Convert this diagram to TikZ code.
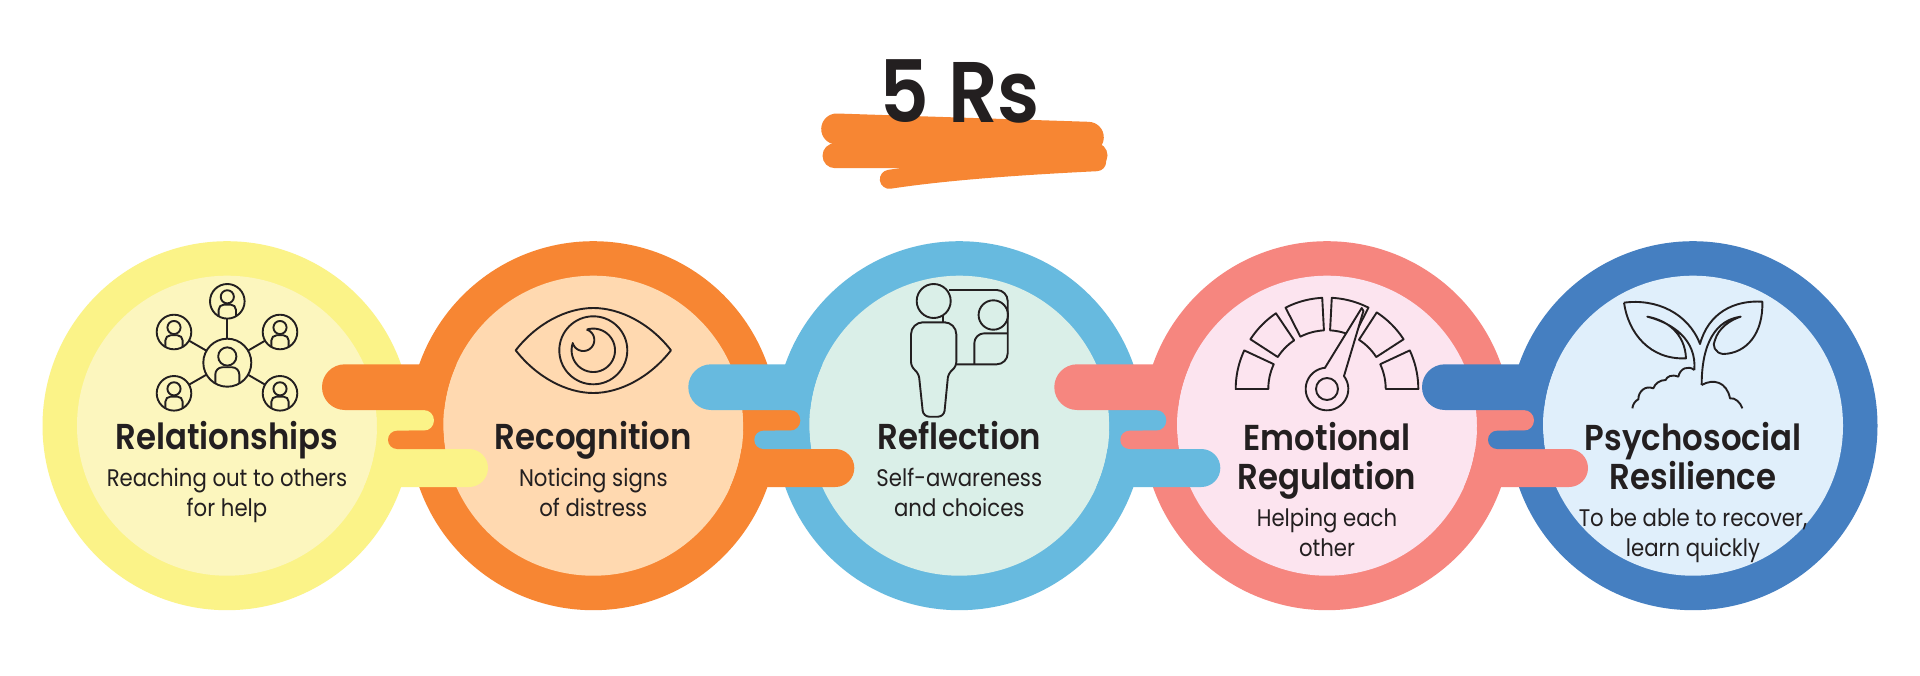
\documentclass[tikz,border=0pt]{standalone}
\usepackage{fontspec}
\setmainfont{Poppins}
\newfontfamily\hfont{Poppins}[UprightFont=* SemiBold,FakeStretch=0.9]
\newfontfamily\sfont{Poppins}[FakeStretch=0.885]
\definecolor{ink}{HTML}{231F20}
\definecolor{cA}{HTML}{FBF388}\definecolor{iA}{HTML}{FCF6BE}
\definecolor{cB}{HTML}{F78633}\definecolor{iB}{HTML}{FFD9B0}
\definecolor{cC}{HTML}{67BADF}\definecolor{iC}{HTML}{DAEFE8}
\definecolor{cD}{HTML}{F6867F}\definecolor{iD}{HTML}{FCE4EF}
\definecolor{cE}{HTML}{457FC1}\definecolor{iE}{HTML}{E0EFFB}
\tikzset{
  ringdisc/.style={circle,inner sep=0pt,outer sep=0pt,minimum size=369pt,fill=#1},
  innerdisc/.style={circle,inner sep=0pt,outer sep=0pt,minimum size=300pt,fill=#1},
  headtext/.style={anchor=base,inner sep=0pt,text=ink,font=\hfont\fontsize{36}{36}\selectfont},
  subtext/.style={anchor=base,inner sep=0pt,text=ink,font=\sfont\fontsize{24}{24}\selectfont},
  iconline/.style={draw=ink,line width=1.9pt,line join=round},
  personring/.style={circle,draw=ink,line width=1.9pt,inner sep=0pt,outer sep=0pt},
  scribble/.style={draw=cB,line cap=round}
}
\newcommand{\bandpair}[5]{% x of left circle, colour left, colour right, x of right circle, unused
  \begin{scope}[even odd rule]
    \clip (0,0) rectangle (1920,675) (#1,425.7) circle[radius=150];
    \fill[#2,rounded corners=19pt] ({#1+100},449) rectangle ({#1+261},487);
    \fill[#2,rounded corners=10.3pt] ({#1+100},410) rectangle ({#1+207},430.7);
  \end{scope}
  \begin{scope}[even odd rule]
    \clip (0,0) rectangle (1920,675) (#4,425.7) circle[radius=150];
    \fill[#3,rounded corners=22.8pt] ({#1+95},364.3) rectangle ({#4-100},410);
    \fill[#3,rounded corners=9.1pt] ({#1+161},430.7) rectangle ({#4-100},449);
  \end{scope}
}
\newcommand{\personicon}[4]{%
  \node[personring,minimum size={2*#4*1pt}] (#1) at (#2,#3) {};
  \draw[iconline] (#2,{#3-.26*#4}) circle[radius={.38*#4}];
  \draw[iconline,rounded corners={.3*#4*1pt}] ({#2-.5*#4},{#3+.866*#4}) -- ({#2-.5*#4},{#3+.19*#4}) -- ({#2+.5*#4},{#3+.19*#4}) -- ({#2+.5*#4},{#3+.866*#4});
}
\newcommand{\gaugeseg}[2]{%
  \draw[iconline] plot[domain=#1:#2,samples=24] ({1327+91.3*cos(\x)},{389-91.3*sin(\x)}) -- plot[domain=#2:#1,samples=24] ({1327+58.7*cos(\x)},{389-58.7*sin(\x)}) -- cycle;
}
\begin{document}
\begin{tikzpicture}[x=1pt,y=-1pt]
\useasboundingbox (0,0) rectangle (1920,675);
\fill[white] (0,0) rectangle (1920,675);
% scribble
\draw[scribble,line width=31pt] (836.7,129) -- (1088.3,137.3);
\draw[scribble,line width=25pt] (835,155.7) -- (1095,155.3);
\draw[scribble,line width=19pt] (889.3,179.3) .. controls (950,170) and (1030,165) .. (1096.7,161.7);
\node[anchor=base,inner sep=0pt,text=ink,font=\hfont\fontsize{86}{86}\selectfont] (title) at (960,122.7) {5 Rs};
% rings
\node[ringdisc=cA] (o1) at (227,425.7) {};
\node[ringdisc=cB] (o2) at (593.3,425.7) {};
\node[ringdisc=cC] (o3) at (959.3,425.7) {};
\node[ringdisc=cD] (o4) at (1327,425.7) {};
\node[ringdisc=cE] (o5) at (1693,425.7) {};
\node[innerdisc=iA] (i1) at (227,425.7) {};
\node[innerdisc=iB] (i2) at (593.3,425.7) {};
\node[innerdisc=iC] (i3) at (959.3,425.7) {};
\node[innerdisc=iD] (i4) at (1327,425.7) {};
\node[innerdisc=iE] (i5) at (1693,425.7) {};
% bands
\bandpair{227}{cA}{cB}{593.3}{}
\bandpair{593.3}{cB}{cC}{959.3}{}
\bandpair{959.3}{cC}{cD}{1327}{}
\bandpair{1327}{cD}{cE}{1693}{}
% icon 1
\personicon{pc}{227.3}{362.7}{24}
\personicon{pt}{227.3}{301.3}{17.3}
\personicon{pul}{174}{332}{17.3}
\personicon{pur}{280}{332}{17.3}
\personicon{pll}{174}{393.3}{17.3}
\personicon{plr}{280}{393.3}{17.3}
\foreach \q in {pt,pul,pur,pll,plr}{\draw[iconline] (pc) -- (\q);}
% icon 2: eye
\draw[iconline] (515.7,350.3) .. controls (536.7,323.3) and (566.7,308) .. (593.3,308) .. controls (620,308) and (650,323.3) .. (671,350.3) .. controls (650,377.3) and (620,393) .. (593.3,393) .. controls (566.7,393) and (536.7,377.3) .. cycle;
\draw[iconline] (593.3,350.3) circle[radius=34];
\draw[iconline] plot[domain=-107.5:198,samples=70] ({593.3+21.7*cos(\x)},{350.3+21.7*sin(\x)}) -- plot[domain=164:-73,samples=40] ({583.3+11*cos(\x)},{340+11*sin(\x)});
% icon 3: person and board
\draw[iconline] (933.7,301) circle[radius=17];
\draw[iconline] (933.7,322.3) [rounded corners=12pt] -- (956.3,322.3) [rounded corners=5pt] -- (956.3,367) -- (948.3,373) [rounded corners=6pt] -- (944,416.7) -- (923.3,416.7) [rounded corners=5pt] -- (918.7,373) -- (911,367) [rounded corners=12pt] -- (911,322.3) -- cycle;
\draw[iconline] (943,316) -- (943,322.3);
\draw[iconline,rounded corners=11pt] (949,290) -- (1007.7,290) -- (1007.7,364.3) -- (956.3,364.3);
\draw[iconline] (993.3,315) circle[radius=14.7];
\draw[iconline,rounded corners=10pt] (974.3,364.3) -- (974.3,333.3) -- (1007.7,333.3);
% icon 4: gauge
\gaugeseg{180}{155}
\gaugeseg{147}{124}
\gaugeseg{117}{93}
\gaugeseg{87}{63}
\gaugeseg{57}{33}
\gaugeseg{25}{0}
\draw[iconline,fill=iD] (1361.7,308) -- (1363.4,311) -- (1344,376) -- plot[domain=-37.4:265,samples=60] ({1327+21.3*cos(\x)},{389+21.3*sin(\x)}) -- (1325,367.7) -- cycle;
\draw[iconline] (1327,389) circle[radius=11];
% icon 5: sprout
\begin{scope}[shift={(1500,270)},x=0.33333pt,y=-0.33333pt]
\draw[iconline] (372,98) .. controls (470,85) and (565,130) .. (600,222) .. controls (625,130) and (700,90) .. (787,95) .. controls (790,190) and (740,250) .. (670,252) .. controls (645,250) and (635,225) .. (645,210) .. controls (655,175) and (690,150) .. (722,140) .. controls (650,150) and (605,215) .. (605,345);
\draw[iconline] (372,98) .. controls (385,190) and (450,270) .. (558,265) .. controls (555,190) and (500,150) .. (442,140) .. controls (520,160) and (590,210) .. (583,300);
\draw[iconline] (583,300) .. controls (565,285) and (540,295) .. (535,320) .. controls (515,312) and (500,320) .. (497,330) .. controls (480,330) and (465,340) .. (460,355) .. controls (435,345) and (415,365) .. (415,388) .. controls (405,392) and (398,405) .. (397,415);
\draw[iconline] (605,345) .. controls (640,325) and (680,335) .. (690,385) .. controls (705,382) and (722,398) .. (727,415);
\end{scope}
% labels
\node[headtext] (t1) at (227,449.5) {Relationships};
\node[subtext] (s1a) at (227,486) {Reaching out to others};
\node[subtext] (s1b) at (227,516) {for help};
\node[headtext] (t2) at (593.3,449.5) {Recognition};
\node[subtext] (s2a) at (593.3,486) {Noticing signs};
\node[subtext] (s2b) at (593.3,516) {of distress};
\node[headtext] (t3) at (959.3,449.5) {Reflection};
\node[subtext] (s3a) at (959.3,486) {Self-awareness};
\node[subtext] (s3b) at (959.3,516) {and choices};
\node[headtext] (t4a) at (1327,450) {Emotional};
\node[headtext] (t4b) at (1327,489.3) {Regulation};
\node[subtext] (s4a) at (1327,526) {Helping each};
\node[subtext] (s4b) at (1327,556) {other};
\node[headtext] (t5a) at (1693,450) {Psychosocial};
\node[headtext] (t5b) at (1693,489.3) {Resilience};
\node[subtext] (s5a) at (1693,526) {To be able to recover,};
\node[subtext] (s5b) at (1693,556) {learn quickly};
\end{tikzpicture}
\end{document}
